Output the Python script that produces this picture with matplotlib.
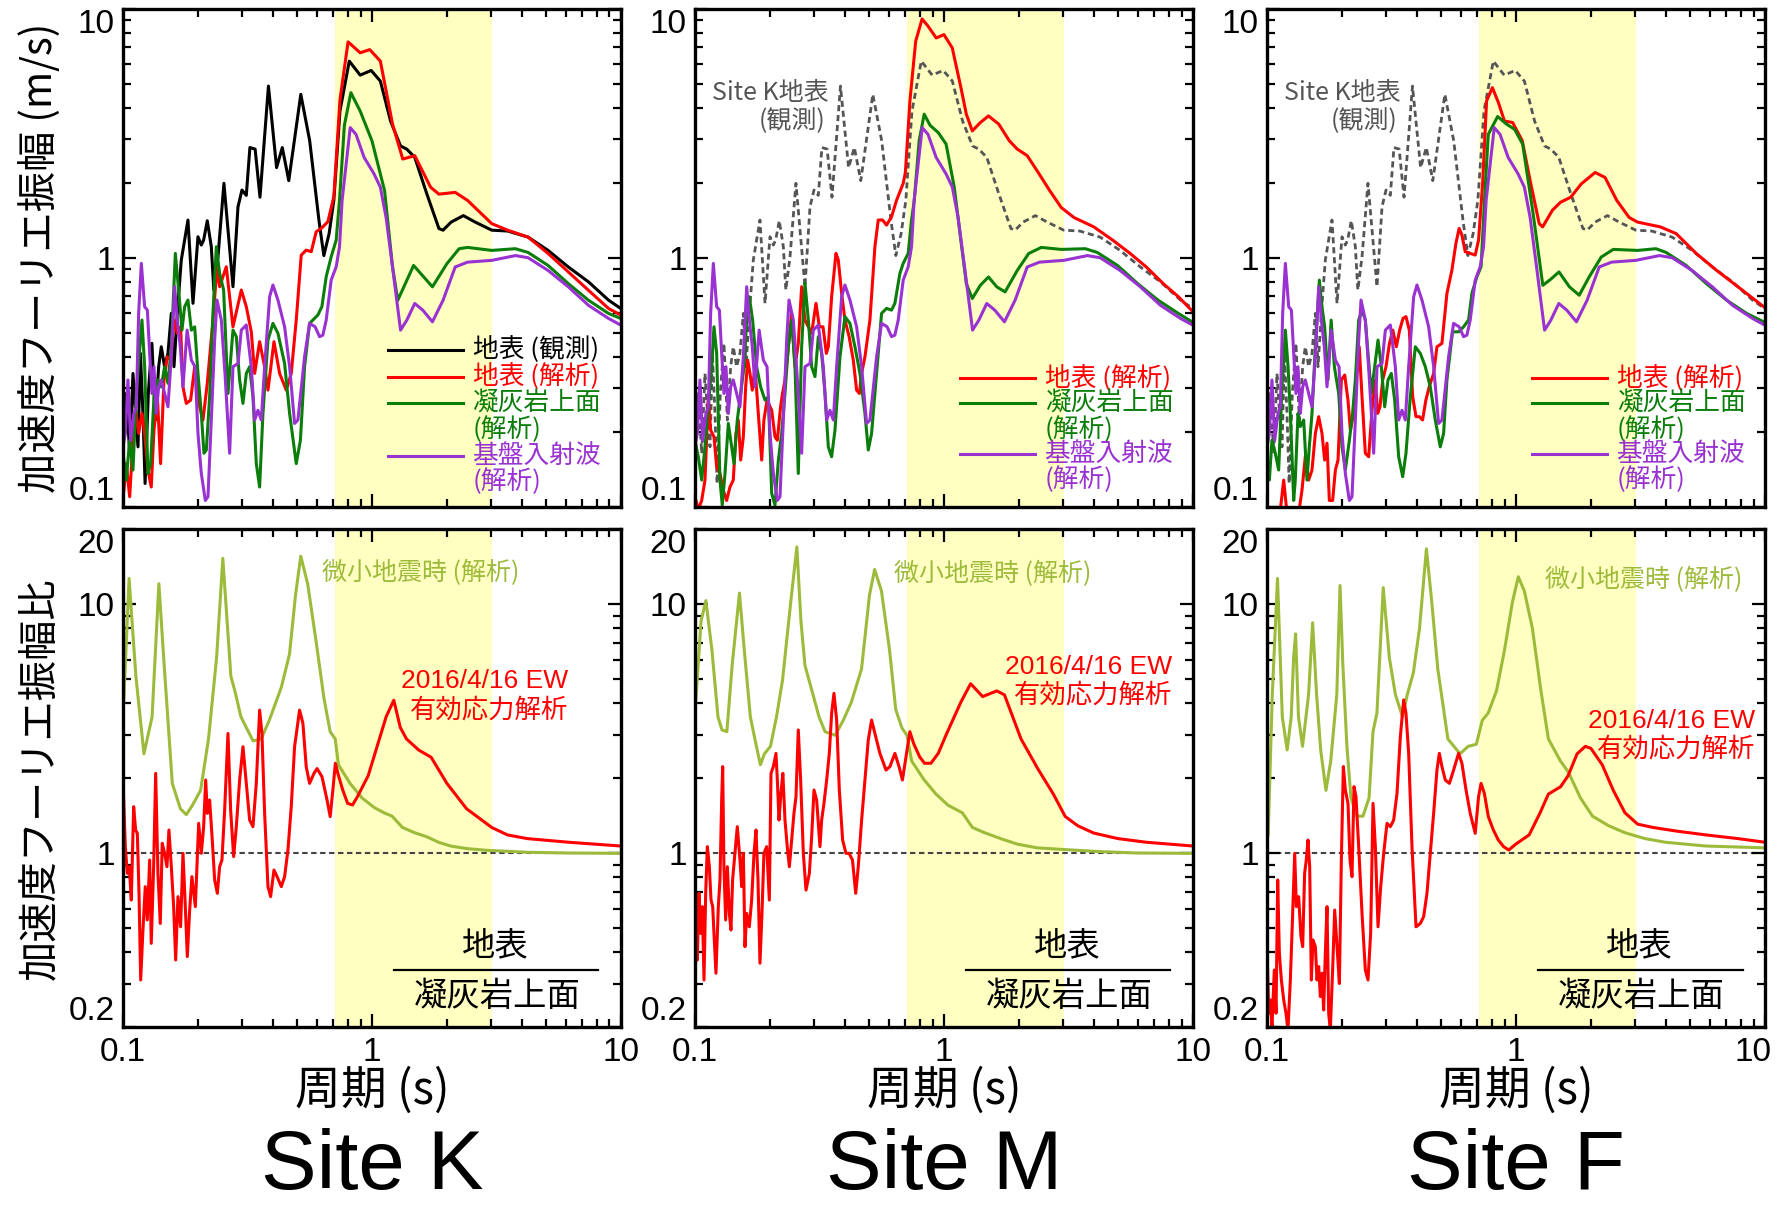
import numpy as np
import matplotlib
matplotlib.use("Agg")
import matplotlib.pyplot as plt
import matplotlib.transforms as mtransforms
from matplotlib.ticker import FixedLocator, NullFormatter

plt.rcParams['font.family'] = ['Liberation Sans', 'Noto Sans CJK JP']

# ---------------- data: period (s), Fourier amplitude of acceleration (m/s) ----------------
K_OBS = [(0.1006,0.197),(0.1031,0.285),(0.1064,0.164),(0.1097,0.343),(0.112,0.245),(0.1149,0.174),
         (0.1175,0.413),(0.1203,0.237),(0.1227,0.124),(0.1264,0.285),(0.1307,0.453),(0.1349,0.223),
         (0.1391,0.365),(0.1425,0.439),(0.147,0.365),(0.1516,0.413),(0.1564,0.598),(0.1603,0.365),
         (0.1653,0.598),(0.1715,0.979),(0.1824,1.417),(0.1911,0.656),(0.2001,1.214),(0.2064,1.124),
         (0.2109,1.178),(0.2181,1.408),(0.2264,1.107),(0.2317,0.742),(0.2408,1.009),(0.2544,1.99),
         (0.2766,0.765),(0.2897,1.60),(0.3006,1.87),(0.3129,1.78),(0.3235,2.77),(0.3395,2.73),
         (0.3551,1.75),(0.384,4.89),(0.414,2.30),(0.4365,2.77),(0.4634,2.04),(0.518,4.53),
         (0.5623,2.95),(0.6128,1.41),(0.641,1.02),(0.673,1.25),(0.703,1.70),(0.744,3.88),
         (0.811,6.16),(0.897,5.41),(0.993,5.65),(1.081,5.12),(1.188,3.54),(1.303,2.81),(1.38,2.73),
         (1.486,2.53),(1.663,1.80),(1.858,1.31),(1.931,1.29),(2.08,1.39),(2.33,1.476),(2.60,1.39),
         (3.03,1.29),(3.51,1.28),(4.24,1.21),(5.10,1.07),(6.15,0.918),(7.41,0.80),(8.93,0.675),
         (10.0,0.625)]

K_SURF = [(0.1009,0.1166),(0.1031,0.149),(0.1064,0.1097),(0.1097,0.185),(0.1131,0.237),(0.1156,0.197),
          (0.1192,0.237),(0.1222,0.197),(0.126,0.1404),(0.1299,0.120),(0.1332,0.203),(0.1375,0.2765),
          (0.1416,0.149),(0.1461,0.323),(0.1507,0.400),(0.1554,0.388),(0.1603,0.562),(0.1653,0.497),
          (0.1704,0.528),(0.1742,0.303),(0.1796,0.260),(0.187,0.268),(0.1941,0.365),(0.2033,0.252),
          (0.2096,0.223),(0.2181,0.313),(0.2299,0.562),(0.2386,0.920),(0.2445,0.765),(0.26,0.920),
          (0.2766,0.528),(0.2988,0.742),(0.3129,0.636),(0.3277,0.504),(0.338,0.343),(0.3539,0.460),
          (0.3707,0.365),(0.3823,0.294),(0.4041,0.460),(0.4258,0.343),(0.4528,0.294),(0.4742,0.343),
          (0.4966,0.562),(0.5201,1.025),(0.5446,1.073),(0.5704,1.057),(0.5973,1.272),(0.6256,1.311),
          (0.6653,1.395),(0.7031,1.758),(0.744,4.3),(0.802,7.36),(0.897,6.65),(0.98,6.85),(1.081,6.16),
          (1.21,3.44),(1.33,2.49),(1.486,2.57),(1.72,1.92),(1.858,1.80),(2.16,1.83),(2.42,1.70),
          (3.03,1.37),(3.51,1.29),(4.24,1.21),(5.10,1.04),(6.15,0.877),(7.41,0.74),(8.93,0.625),
          (10.0,0.588)]

K_TUFF = [(0.1,0.164),(0.1031,0.128),(0.1064,0.185),(0.1097,0.1404),(0.1131,0.285),(0.1192,0.562),
          (0.1222,0.365),(0.126,0.136),(0.1292,0.149),(0.1332,0.2765),(0.1382,0.323),(0.1425,0.303),
          (0.147,0.365),(0.1516,0.313),(0.1564,0.439),(0.1623,1.041),(0.1673,0.742),(0.1726,0.512),
          (0.1769,0.636),(0.1824,0.676),(0.1882,0.512),(0.1941,0.528),(0.2001,0.343),(0.2064,0.237),
          (0.2115,0.164),(0.2162,0.169),(0.2229,0.2765),(0.2299,0.598),(0.2371,1.107),(0.2445,0.865),
          (0.2537,0.742),(0.2641,0.285),(0.2766,0.512),(0.2853,0.482),(0.2942,0.323),(0.3034,0.260),
          (0.3129,0.343),(0.3227,0.365),(0.3328,0.2765),(0.3432,0.149),(0.3539,0.120),(0.365,0.237),
          (0.3823,0.467),(0.4003,0.545),(0.4193,0.497),(0.4459,0.376),(0.467,0.237),(0.4966,0.149),
          (0.5161,0.185),(0.5363,0.365),(0.5617,0.545),(0.5792,0.562),(0.6066,0.589),(0.6295,0.636),
          (0.6551,0.839),(0.6861,1.009),(0.7186,1.178),(0.741,1.70),(0.775,3.4),(0.823,4.60),
          (0.897,3.88),(1.0,2.95),(1.124,1.86),(1.21,0.918),(1.27,0.675),(1.47,0.931),(1.75,0.764),
          (2.0,0.946),(2.24,1.087),(2.42,1.10),(3.03,1.07),(3.77,1.087),(4.24,1.05),(5.10,0.931),
          (6.15,0.787),(7.41,0.675),(8.93,0.597),(10.0,0.57)]

BASE_IN = [(0.1,0.174),(0.1022,0.197),(0.1047,0.323),(0.1074,0.185),(0.1107,0.237),(0.1131,0.252),
           (0.1156,0.598),(0.1185,0.949),(0.1222,0.636),(0.1253,0.616),(0.128,0.413),(0.1307,0.285),
           (0.1332,0.365),(0.1361,0.237),(0.1391,0.303),(0.1425,0.323),(0.147,0.285),(0.1516,0.252),
           (0.1564,0.400),(0.1613,0.765),(0.1653,0.562),(0.1699,0.439),(0.1742,0.303),(0.181,0.512),
           (0.1882,0.388),(0.1947,0.365),(0.2001,0.197),(0.2064,0.136),(0.2142,0.106),(0.2195,0.1097),
           (0.2264,0.223),(0.2335,0.467),(0.2386,0.676),(0.2483,0.562),(0.2569,0.343),(0.2682,0.164),
           (0.2766,0.365),(0.2897,0.376),(0.2988,0.512),(0.3129,0.537),(0.3277,0.365),(0.338,0.223),
           (0.3485,0.244),(0.3594,0.223),(0.3707,0.365),(0.3882,0.697),(0.4003,0.777),(0.4193,0.676),
           (0.4459,0.528),(0.467,0.365),(0.489,0.216),(0.5043,0.223),(0.5363,0.400),(0.5617,0.545),
           (0.5911,0.528),(0.616,0.482),(0.6353,0.489),(0.6551,0.562),(0.6861,0.813),(0.7186,0.920),
           (0.741,1.107),(0.759,1.70),(0.818,3.33),(0.863,3.13),(0.93,2.53),(1.02,2.17),(1.081,1.92),
           (1.14,1.45),(1.21,0.918),(1.303,0.512),(1.38,0.561),(1.486,0.655),(1.60,0.616),(1.75,0.553),
           (1.931,0.675),(2.16,0.918),(2.42,0.96),(3.03,0.976),(3.77,1.02),(4.24,1.0),(5.10,0.889),
           (6.15,0.764),(7.41,0.644),(8.93,0.57),(10.0,0.536)]

M_SURF = [(0.1009,0.106),(0.1031,0.0975),(0.1064,0.106),(0.1097,0.128),(0.1131,0.2765),(0.1156,0.203),
          (0.1192,0.191),(0.1222,0.145),(0.126,0.136),(0.1299,0.1166),(0.134,0.106),(0.1382,0.120),
          (0.1425,0.128),(0.1461,0.197),(0.1493,0.223),(0.1526,0.154),(0.1564,0.191),(0.1598,0.303),
          (0.1628,0.388),(0.1663,0.343),(0.1699,0.294),(0.1742,0.365),(0.1796,0.237),(0.1853,0.154),
          (0.1892,0.223),(0.1947,0.268),(0.2033,0.244),(0.2096,0.191),(0.2142,0.185),(0.2207,0.252),
          (0.2247,0.285),(0.2299,0.323),(0.2371,0.439),(0.2445,0.598),(0.2522,0.365),(0.26,0.453),
          (0.2682,0.765),(0.2766,0.562),(0.2853,0.528),(0.2942,0.497),(0.3062,0.656),(0.316,0.528),
          (0.3267,0.528),(0.337,0.413),(0.3432,0.439),(0.3539,0.697),(0.3684,1.041),(0.3764,0.979),
          (0.3882,0.719),(0.4003,0.562),(0.416,0.482),(0.4324,0.388),(0.4459,0.294),(0.4575,0.285),
          (0.467,0.343),(0.4816,0.400),(0.5043,0.562),(0.5281,1.107),(0.5446,1.417),(0.5669,1.417),
          (0.5882,1.352),(0.616,1.461),(0.6451,1.70),(0.6861,1.99),(0.70,2.2),(0.73,4.26),(0.77,7.40),
          (0.817,9.1),(0.864,8.5),(0.931,7.63),(1.0,7.87),(1.08,6.96),(1.17,4.82),(1.23,3.77),
          (1.30,3.23),(1.40,3.49),(1.51,3.71),(1.66,3.44),(1.83,2.95),(1.97,2.73),(2.16,2.57),
          (2.37,2.23),(2.66,1.86),(2.96,1.59),(3.33,1.45),(4.0,1.33),(4.8,1.17),(5.6,1.04),(6.5,0.918),
          (7.6,0.787),(8.75,0.697),(10.0,0.607)]

M_TUFF = [(0.1,0.185),(0.1031,0.1588),(0.1064,0.128),(0.1097,0.174),(0.1131,0.252),(0.1167,0.365),
          (0.1192,0.528),(0.1222,0.413),(0.126,0.128),(0.1287,0.1015),(0.132,0.136),(0.1361,0.216),
          (0.1404,0.174),(0.1435,0.149),(0.1479,0.223),(0.1526,0.285),(0.1574,0.365),(0.1613,0.562),
          (0.1653,0.697),(0.1704,0.562),(0.1769,0.365),(0.1835,0.303),(0.1911,0.268),(0.1971,0.2765),
          (0.2033,0.113),(0.2096,0.1015),(0.2162,0.154),(0.2229,0.197),(0.2299,0.285),(0.2371,0.439),
          (0.2445,0.562),(0.2522,0.365),(0.26,0.136),(0.2682,0.439),(0.2766,0.789),(0.2853,0.562),
          (0.2942,0.365),(0.3034,0.333),(0.3129,0.482),(0.3227,0.413),(0.3328,0.285),(0.3432,0.174),
          (0.3539,0.1588),(0.365,0.203),(0.3823,0.400),(0.4003,0.580),(0.4193,0.545),(0.4391,0.439),
          (0.4599,0.343),(0.4816,0.237),(0.4966,0.169),(0.5121,0.197),(0.5363,0.343),(0.5617,0.598),
          (0.5882,0.626),(0.616,0.616),(0.6353,0.656),(0.6653,0.865),(0.6861,0.949),(0.7186,1.041),
          (0.741,1.417),(0.76,1.70),(0.795,2.95),(0.833,3.77),(0.88,3.4),(0.949,3.18),(1.02,2.86),
          (1.10,1.92),(1.17,1.17),(1.23,0.787),(1.30,0.686),(1.40,0.775),(1.51,0.837),(1.63,0.764),
          (1.76,0.729),(1.97,0.889),(2.19,1.04),(2.46,1.10),(2.96,1.08),(3.70,1.087),(4.13,1.05),
          (4.98,0.931),(6.0,0.787),(7.25,0.675),(8.75,0.597),(10.0,0.55)]

F_SURF = [(0.1,0.081),(0.108,0.081),(0.1131,0.097),(0.1167,0.128),(0.1203,0.094),(0.1241,0.083),
          (0.128,0.094),(0.134,0.094),(0.1382,0.1166),(0.1425,0.1588),(0.147,0.128),(0.1516,0.1404),
          (0.1564,0.197),(0.1613,0.23),(0.1663,0.197),(0.1704,0.154),(0.1742,0.18),(0.178,0.106),
          (0.1835,0.106),(0.1882,0.1404),(0.1929,0.154),(0.1989,0.323),(0.2052,0.338),(0.2115,0.268),
          (0.2162,0.203),(0.2229,0.237),(0.2299,0.365),(0.2347,0.439),(0.2408,0.2765),(0.2483,0.164),
          (0.2561,0.1588),(0.2641,0.244),(0.2724,0.323),(0.2783,0.237),(0.2844,0.252),(0.2915,0.323),
          (0.3006,0.365),(0.3104,0.453),(0.3202,0.512),(0.3307,0.439),(0.3411,0.512),(0.3519,0.571),
          (0.3616,0.58),(0.373,0.512),(0.3847,0.2765),(0.3967,0.23),(0.409,0.23),(0.4215,0.223),
          (0.4346,0.268),(0.4482,0.303),(0.467,0.343),(0.4816,0.439),(0.5043,0.453),(0.5281,0.719),
          (0.5531,0.892),(0.5739,1.142),(0.5911,1.311),(0.6066,1.233),(0.6256,1.057),(0.6551,1.041),
          (0.6861,1.025),(0.7076,1.178),(0.735,2.0),(0.762,4.26),(0.804,4.82),(0.85,4.2),(0.899,3.54),
          (0.97,3.49),(1.06,2.95),(1.14,2.04),(1.24,1.37),(1.28,1.33),(1.40,1.55),(1.51,1.67),
          (1.66,1.75),(1.83,1.98),(2.08,2.20),(2.28,2.10),(2.54,1.70),(2.85,1.45),(3.08,1.39),
          (3.8,1.33),(4.4,1.25),(5.3,1.04),(6.4,0.889),(7.8,0.764),(10.0,0.63)]

F_TUFF = [(0.1,0.1404),(0.1022,0.128),(0.1047,0.185),(0.108,0.164),(0.1114,0.1404),(0.1149,0.303),
          (0.1185,0.512),(0.1215,0.365),(0.1241,0.237),(0.128,0.106),(0.1299,0.128),(0.1332,0.237),
          (0.1361,0.21),(0.1404,0.223),(0.1447,0.128),(0.1479,0.174),(0.1516,0.237),(0.1564,0.439),
          (0.1623,0.813),(0.1663,0.636),(0.1704,0.528),(0.1758,0.323),(0.181,0.562),(0.1865,0.365),
          (0.1941,0.285),(0.2001,0.174),(0.2064,0.1404),(0.2142,0.185),(0.2207,0.237),(0.2264,0.323),
          (0.2335,0.562),(0.2408,0.616),(0.2483,0.562),(0.2545,0.413),(0.2624,0.285),(0.2707,0.365),
          (0.2792,0.467),(0.288,0.365),(0.2969,0.252),(0.3062,0.323),(0.3158,0.343),(0.3257,0.268),
          (0.338,0.1588),(0.3508,0.132),(0.3616,0.164),(0.3764,0.2765),(0.3942,0.439),(0.4129,0.413),
          (0.4324,0.365),(0.4528,0.303),(0.4742,0.223),(0.4966,0.174),(0.5121,0.197),(0.5281,0.323),
          (0.5561,0.504),(0.5882,0.504),(0.616,0.528),(0.6451,0.562),(0.6653,0.719),(0.6968,0.839),
          (0.7242,0.920),(0.75,1.8),(0.774,3.13),(0.844,3.69),(0.916,3.44),(0.987,3.28),(1.064,2.86),
          (1.167,1.55),(1.282,0.775),(1.38,0.82),(1.489,0.877),(1.64,0.764),(1.795,0.707),
          (1.968,0.837),(2.20,1.006),(2.46,1.08),(3.08,1.07),(3.65,1.087),(4.01,1.05),(4.83,0.931),
          (5.82,0.787),(7.02,0.675),(8.46,0.597),(10.0,0.55)]

# ---------------- data: spectral ratio surface / tuff top ----------------
K_RATIO = [(0.1,1.97),(0.1022,1.064),(0.1041,0.831),(0.106,0.884),(0.108,0.649),(0.1104,1.54),
           (0.1124,1.241),(0.1142,1.203),(0.116,0.691),(0.1178,0.310),(0.1203,0.492),(0.1229,0.735),
           (0.1252,0.540),(0.128,0.94),(0.1299,0.435),(0.1328,0.884),(0.1353,2.095),(0.1382,0.831),
           (0.1412,0.523),(0.1438,1.097),(0.147,1.0),(0.1502,0.884),(0.153,1.241),(0.1564,0.884),
           (0.1598,0.611),(0.1628,0.373),(0.1663,0.67),(0.1704,0.507),(0.1742,1.0),(0.178,0.611),
           (0.1813,0.385),(0.1853,0.592),(0.1892,0.806),(0.1953,0.611),(0.2014,1.32),(0.2064,1.0),
           (0.2109,1.28),(0.2149,1.97),(0.2182,1.447),(0.2229,1.638),(0.2284,1.131),(0.2335,0.782),
           (0.2394,0.691),(0.2445,0.884),(0.2498,0.94),(0.2561,1.493),(0.2641,3.03),(0.2707,1.493),
           (0.2783,0.97),(0.2853,1.28),(0.2942,1.97),(0.3034,2.68),(0.3129,1.91),(0.3227,1.36),
           (0.3328,1.28),(0.3432,1.91),(0.3539,3.76),(0.3616,3.03),(0.3707,1.447),(0.3823,0.735),
           (0.3918,0.67),(0.4041,0.857),(0.416,0.806),(0.4324,0.735),(0.4459,0.806),(0.4599,1.031),
           (0.4742,1.54),(0.489,2.68),(0.5121,3.76),(0.5281,3.33),(0.5446,2.23),(0.5617,1.91),
           (0.5852,2.095),(0.602,2.19),(0.6302,2.03),(0.6602,1.638),(0.6797,1.404),(0.6968,1.796),
           (0.7131,2.30),(0.7297,2.095),(0.7634,1.796),(0.7989,1.587),(0.8359,1.564),(0.8747,1.689),
           (0.966,2.05),(1.06,2.78),(1.14,3.53),(1.224,4.12),(1.30,3.2),(1.377,2.88),(1.54,2.6),
           (1.73,2.43),(2.0,1.91),(2.4,1.51),(3.03,1.27),(3.5,1.186),(4.21,1.146),(6.17,1.108),
           (10.0,1.07)]

K_MICRO = [(0.1007,4.05),(0.1058,12.7),(0.1127,5.14),(0.1214,2.51),(0.1309,3.53),(0.1394,12.1),
           (0.1464,5.69),(0.1578,1.91),(0.1701,1.51),(0.1797,1.43),(0.1901,1.56),(0.205,1.79),
           (0.2206,2.88),(0.2377,6.10),(0.2518,15.3),(0.2713,5.14),(0.2815,4.49),(0.2978,3.53),
           (0.3329,2.83),(0.359,2.88),(0.387,3.42),(0.4325,4.64),(0.4666,6.31),(0.4933,10.9),
           (0.5178,15.6),(0.5518,12.1),(0.595,7.24),(0.6418,4.19),(0.6796,3.08),(0.712,2.88),
           (0.7333,2.27),(0.8165,1.91),(0.9121,1.67),(1.019,1.53),(1.118,1.455),(1.205,1.41),
           (1.327,1.27),(1.484,1.21),(1.659,1.166),(1.853,1.108),(2.07,1.07),(2.40,1.045),
           (2.91,1.028),(4.21,1.01),(6.17,1.003),(10.0,1.0)]

M_RATIO = [(0.1,0.831),(0.1009,0.574),(0.1022,0.373),(0.1037,0.691),(0.1054,0.477),(0.107,0.611),
           (0.1087,0.310),(0.1104,0.691),(0.1121,1.064),(0.1142,0.884),(0.116,0.649),(0.1178,0.611),
           (0.1192,0.477),(0.1214,0.330),(0.1241,0.611),(0.126,0.782),(0.128,1.638),(0.1292,2.23),
           (0.1307,0.884),(0.1328,0.540),(0.1349,0.884),(0.1374,0.574),(0.1395,0.492),(0.1416,0.782),
           (0.1447,1.0),(0.1479,1.28),(0.1516,0.94),(0.154,0.735),(0.1564,1.0),(0.1588,0.422),
           (0.1613,0.574),(0.1653,0.507),(0.1689,0.649),(0.1726,1.0),(0.1758,1.241),(0.1791,0.782),
           (0.1824,0.362),(0.1858,0.574),(0.1892,1.0),(0.1941,1.064),(0.1989,0.649),(0.202,2.095),
           (0.2064,2.23),(0.2115,2.52),(0.2142,1.97),(0.2175,1.36),(0.2214,1.74),(0.2254,2.095),
           (0.2299,1.36),(0.2347,1.064),(0.2394,0.884),(0.2445,1.131),(0.2498,1.447),(0.2545,1.689),
           (0.26,3.13),(0.2657,1.97),(0.2724,1.0),(0.2792,0.712),(0.288,0.831),(0.2942,1.167),
           (0.3006,1.796),(0.3081,1.638),(0.3177,1.064),(0.3227,1.36),(0.3297,1.587),(0.338,1.97),
           (0.3464,2.52),(0.3539,3.65),(0.3616,4.39),(0.3707,3.43),(0.38,1.796),(0.3918,1.131),
           (0.4041,1.0),(0.416,1.0),(0.4291,0.94),(0.4422,0.691),(0.4528,0.884),(0.467,1.36),
           (0.4816,1.97),(0.4966,2.85),(0.5121,3.43),(0.5281,3.03),(0.5531,2.52),(0.5852,2.16),
           (0.6066,2.23),(0.6353,2.52),(0.6602,2.23),(0.6811,1.97),(0.7076,2.52),(0.7297,3.08),
           (0.7556,2.76),(0.7989,2.44),(0.8359,2.30),(0.8865,2.30),(0.9486,2.52),(1.026,3.03),
           (1.17,4.05),(1.28,4.80),(1.43,4.26),(1.63,4.49),(1.75,4.33),(2.04,2.88),(2.38,2.19),
           (2.75,1.73),(3.07,1.406),(3.45,1.29),(4.0,1.206),(5.0,1.146),(6.5,1.108),(10.0,1.07)]

M_MICRO = [(0.1007,4.05),(0.1058,8.58),(0.1106,10.35),(0.117,6.53),(0.1237,3.53),(0.1284,3.13),
           (0.1343,3.08),(0.141,5.69),(0.1509,11.1),(0.1578,6.53),(0.1669,3.53),(0.1765,2.69),
           (0.1831,2.27),(0.1901,2.51),(0.201,2.69),(0.2125,3.53),(0.2248,4.97),(0.2424,10.2),
           (0.2566,17.0),(0.2664,8.58),(0.2765,5.69),(0.2925,4.64),(0.315,3.53),(0.333,3.08),
           (0.3655,2.98),(0.394,3.42),(0.4249,4.05),(0.4666,5.50),(0.5023,10.9),(0.5267,13.8),
           (0.5612,11.3),(0.6048,6.53),(0.6403,3.78),(0.6779,3.19),(0.7101,2.98),(0.7417,2.35),
           (0.8303,1.98),(0.9289,1.73),(1.039,1.56),(1.185,1.455),(1.302,1.27),(1.456,1.21),
           (1.69,1.146),(1.97,1.089),(2.37,1.052),(3.08,1.035),(4.15,1.017),(6.0,1.003),(10.0,1.0)]

F_RATIO = [(0.1,0.422),(0.1016,0.228),(0.1031,0.258),(0.1047,0.201),(0.107,0.34),(0.1087,0.228),
           (0.1104,0.782),(0.1121,0.397),(0.1142,0.310),(0.1167,0.258),(0.1192,0.228),(0.1214,0.195),
           (0.1241,0.310),(0.1268,0.574),(0.1292,1.0),(0.1312,0.611),(0.134,0.67),(0.1369,0.463),
           (0.1391,0.422),(0.1416,0.831),(0.1438,0.94),(0.1461,1.131),(0.1484,0.884),(0.1507,0.310),
           (0.153,0.449),(0.1564,0.422),(0.1588,0.310),(0.1613,0.351),(0.1638,0.266),(0.1663,0.330),
           (0.1689,0.235),(0.1715,0.397),(0.1742,0.611),(0.1769,0.228),(0.1796,0.195),(0.1835,0.34),
           (0.187,0.592),(0.1911,0.422),(0.1953,0.30),(0.1989,0.94),(0.2026,2.23),(0.2064,1.796),
           (0.2115,1.587),(0.2155,0.94),(0.2195,0.806),(0.2236,1.853),(0.2277,1.689),(0.2335,1.064),
           (0.2408,0.574),(0.2483,0.34),(0.2545,0.310),(0.2608,0.477),(0.2666,1.587),(0.2724,1.064),
           (0.2792,0.507),(0.2862,0.735),(0.2942,1.0),(0.3034,1.32),(0.3129,1.28),(0.3227,1.36),
           (0.3328,1.74),(0.3432,2.94),(0.3539,4.13),(0.3616,3.65),(0.3707,2.52),(0.3823,1.064),
           (0.3967,0.507),(0.4129,0.523),(0.4258,0.557),(0.4391,0.691),(0.4528,1.0),(0.467,1.447),
           (0.4816,2.16),(0.4921,2.52),(0.5043,2.23),(0.5201,1.97),(0.5404,1.91),(0.5617,2.16),
           (0.5882,2.52),(0.6066,2.30),(0.6302,1.796),(0.6551,1.447),(0.6861,1.203),(0.7076,1.689),
           (0.7242,1.91),(0.7466,1.74),(0.7745,1.404),(0.8112,1.241),(0.8497,1.131),(0.8917,1.064),
           (0.9352,1.031),(1.0,1.09),(1.13,1.186),(1.25,1.455),(1.35,1.73),(1.51,1.85),(1.62,2.05),
           (1.76,2.51),(1.90,2.69),(2.0,2.64),(2.22,2.27),(2.46,1.79),(2.74,1.455),(3.08,1.31),
           (3.56,1.27),(4.45,1.227),(5.78,1.186),(7.8,1.146),(10.0,1.108)]

F_MICRO = [(0.1011,1.186),(0.105,4.34),(0.1102,12.7),(0.1152,3.53),(0.1205,2.60),(0.1251,3.53),
           (0.1279,6.10),(0.1303,7.61),(0.1338,3.53),(0.1389,2.69),(0.1469,4.34),(0.1525,8.43),
           (0.1582,4.34),(0.1643,2.60),(0.1725,1.79),(0.1803,2.35),(0.1907,4.34),(0.1965,11.9),
           (0.2017,5.69),(0.2094,2.69),(0.2174,1.67),(0.2298,1.41),(0.243,1.41),(0.257,1.67),
           (0.2665,3.08),(0.2764,3.66),(0.293,11.66),(0.3101,6.10),(0.3279,4.34),(0.3503,3.53),
           (0.366,4.34),(0.3873,5.32),(0.4098,8.01),(0.4368,16.7),(0.4591,10.2),(0.4853,5.50),
           (0.5328,2.88),(0.596,2.51),(0.6429,2.69),(0.6931,2.74),(0.7323,3.42),(0.7736,3.66),
           (0.8352,4.49),(0.899,6.53),(0.9677,10.2),(1.022,12.9),(1.081,11.3),(1.164,8.01),
           (1.254,4.64),(1.35,2.88),(1.508,2.35),(1.624,2.12),(1.815,1.67),(2.03,1.41),(2.36,1.29),
           (2.74,1.21),(3.30,1.146),(3.98,1.108),(5.78,1.07),(10.0,1.052)]

SITES = ["Site K", "Site M", "Site F"]
SURF = [K_SURF, M_SURF, F_SURF]
TUFF = [K_TUFF, M_TUFF, F_TUFF]
RATIO = [K_RATIO, M_RATIO, F_RATIO]
MICRO = [K_MICRO, M_MICRO, F_MICRO]
BAND = (0.71, 3.04)

RED = "#FF0000"
GREEN = "#0A7D0A"
PURPLE = "#9A32D2"
OLIVE = "#9DBB3A"
GRAY = "#555555"
YELLOW = "#FFFFC2"
LW = 2.2


def xy(pairs):
    a = np.asarray(pairs, dtype=float)
    return a[:, 0], a[:, 1]


def frame(ax):
    ax.set_xscale("log")
    ax.set_yscale("log")
    ax.set_xlim(0.1, 10)
    ax.axvspan(*BAND, color=YELLOW, lw=0, zorder=0)
    for s in ax.spines.values():
        s.set_linewidth(2.4)
        s.set_zorder(5)
    ax.xaxis.set_major_locator(FixedLocator([0.1, 1, 10]))
    ax.xaxis.set_minor_locator(FixedLocator(
        [m * d for d in (0.1, 1) for m in range(2, 10)]))
    ax.tick_params(which="both", direction="in", top=True, right=True,
                   labelsize=24, pad=6)
    ax.tick_params(which="major", length=9.5, width=1.6)
    ax.tick_params(which="minor", length=5.8, width=1.6)
    ax.xaxis.set_minor_formatter(NullFormatter())
    ax.yaxis.set_minor_formatter(NullFormatter())


def edge_labels(ax):
    # keep the end labels of the value axis inside the frame height
    labs = ax.get_yticklabels()
    labs[0].set_verticalalignment("bottom")
    labs[-1].set_verticalalignment("top")


fig = plt.figure(figsize=(17.77, 12.08), dpi=100)
lefts = [0.0692, 0.3911, 0.7130]
W, H = 0.2802, 0.4123
TOP_B, BOT_B = 0.5805, 0.1495
cjk = ['Noto Sans CJK JP', 'Liberation Sans']

for i in range(3):
    # ---------------- Fourier amplitude spectra ----------------
    ax = fig.add_axes([lefts[i], TOP_B, W, H])
    frame(ax)
    ax.set_ylim(0.1, 10)
    ax.yaxis.set_major_locator(FixedLocator([0.1, 1, 10]))
    ax.yaxis.set_minor_locator(FixedLocator(
        [m * d for d in (0.1, 1) for m in range(2, 10)]))
    ax.set_yticklabels(["0.1", "1", "10"])
    ax.set_xticklabels([])
    edge_labels(ax)

    x, y = xy(K_OBS)
    if i == 0:
        ax.plot(x, y, color="black", lw=LW, zorder=2)
    else:
        ax.plot(x, y, color=GRAY, lw=2.0, ls=(0, (2.2, 1.4)), zorder=1.5)
        ax.text(0.152, 0.831, "Site K地表", transform=ax.transAxes, color=GRAY,
                fontsize=18, ha="center", va="center", family=cjk)
        ax.text(0.196, 0.775, "(観測)", transform=ax.transAxes, color=GRAY,
                fontsize=18, ha="center", va="center", family=cjk)
    x, y = xy(SURF[i]); ax.plot(x, y, color=RED, lw=LW, zorder=3)
    x, y = xy(TUFF[i]); ax.plot(x, y, color=GREEN, lw=LW, zorder=3)
    x, y = xy(BASE_IN); ax.plot(x, y, color=PURPLE, lw=LW, zorder=3.5)

    if i == 0:
        rows = [(0.315, "地表 (観測)", "black", True), (0.261, "地表 (解析)", RED, True),
                (0.208, "凝灰岩上面", GREEN, True), (0.155, "(解析)", GREEN, False),
                (0.101, "基盤入射波", PURPLE, True), (0.051, "(解析)", PURPLE, False)]
    else:
        rows = [(0.258, "地表 (解析)", RED, True),
                (0.208, "凝灰岩上面", GREEN, True), (0.155, "(解析)", GREEN, False),
                (0.105, "基盤入射波", PURPLE, True), (0.055, "(解析)", PURPLE, False)]
    for yy, lab, col, has_line in rows:
        if has_line:
            ax.plot([0.533, 0.683], [yy, yy], transform=ax.transAxes, color=col,
                    lw=LW, zorder=6, clip_on=False)
        ax.text(0.702, yy, lab, transform=ax.transAxes, color=col, fontsize=18.5,
                ha="left", va="center", family=cjk, zorder=6)

    # ---------------- spectral ratios ----------------
    bx = fig.add_axes([lefts[i], BOT_B, W, H])
    frame(bx)
    bx.set_ylim(0.2, 20)
    bx.yaxis.set_major_locator(FixedLocator([0.2, 1, 10, 20]))
    bx.yaxis.set_minor_locator(FixedLocator(
        [m * d for d in (0.1, 1) for m in range(2, 10)]))
    bx.set_yticklabels(["0.2", "1", "10", "20"])
    bx.set_xticklabels(["0.1", "1", "10"])
    bx.tick_params(axis="x", pad=7)
    edge_labels(bx)
    if i == 2:
        last = bx.get_xticklabels()[-1]
        last.set_transform(last.get_transform() +
                           mtransforms.ScaledTranslation(-0.12, 0, fig.dpi_scale_trans))

    bx.axhline(1.0, color="#444444", lw=1.5, ls=(0, (2.6, 1.7)), zorder=1)
    x, y = xy(MICRO[i]); bx.plot(x, y, color=OLIVE, lw=LW, zorder=2)
    x, y = xy(RATIO[i]); bx.plot(x, y, color=RED, lw=LW, zorder=3)

    micro_pos = [(0.40, 0.912), (0.40, 0.911), (0.558, 0.898)][i]
    bx.text(*micro_pos, "微小地震時 (解析)", transform=bx.transAxes, color=OLIVE,
            fontsize=18, ha="left", va="center", family=cjk)
    ew_pos = [(0.894, 0.696, 0.638), (0.959, 0.723, 0.668), (0.98, 0.616, 0.558)][i]
    bx.text(ew_pos[0], ew_pos[1], "2016/4/16 EW", transform=bx.transAxes, color=RED,
            fontsize=19, ha="right", va="center")
    bx.text(ew_pos[0], ew_pos[2], "有効応力解析", transform=bx.transAxes, color=RED,
            fontsize=19, ha="right", va="center", family=cjk)

    bx.text(0.748, 0.163, "地表", transform=bx.transAxes, fontsize=24,
            ha="center", va="center", family=cjk, zorder=6)
    bx.plot([0.545, 0.955], [0.115, 0.115], transform=bx.transAxes, color="black",
            lw=1.6, zorder=6)
    bx.text(0.752, 0.063, "凝灰岩上面", transform=bx.transAxes, fontsize=24,
            ha="center", va="center", family=cjk, zorder=6)

    xc = lefts[i] + W / 2
    fig.text(xc, 0.0969, "周期 (s)", fontsize=33, ha="center", va="center", family=cjk)
    fig.text(xc, 0.002, SITES[i], fontsize=60, ha="center", va="bottom")

fig.text(0.0225, TOP_B + H / 2, "加速度フーリエ振幅 (m/s)", rotation=90, fontsize=29,
         ha="center", va="center", family=cjk)
fig.text(0.0225, BOT_B + H / 2, "加速度フーリエ振幅比", rotation=90, fontsize=29,
         ha="center", va="center", family=cjk)

fig.savefig("out.png", dpi=100)
